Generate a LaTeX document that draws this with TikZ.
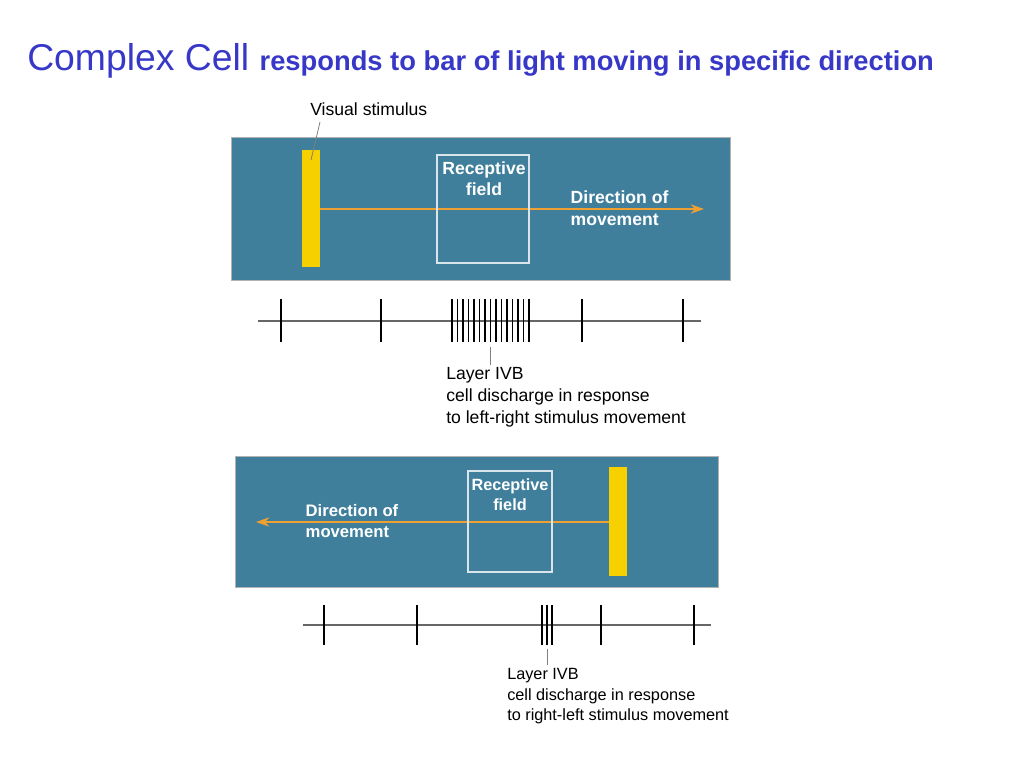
\documentclass[tikz,border=0pt]{standalone}
\usepackage{fontspec}
\setmainfont{Liberation Sans}
\usetikzlibrary{arrows.meta}
\begin{document}
\begin{tikzpicture}[x=0.75pt,y=-0.75pt,
  panel/.style={fill=teal0,draw=gray!60},
  bar/.style={fill=barY,draw=none},
  rf/.style={draw=white!80!teal0,line width=1.2pt},
  wtxt/.style={text=white,font=\bfseries\fontsize{13.2}{16.5}\selectfont,align=left},
  rtxt/.style={text=white,font=\bfseries\fontsize{13.2}{15.5}\selectfont,align=center},
  ktxt/.style={font=\fontsize{13.2}{16.5}\selectfont,align=left,anchor=north west,inner sep=0},
  dir/.style={draw=arrO,line width=1.2pt,-{Stealth[length=10pt,width=7pt]}},
  base/.style={draw=gray!80!black,line width=0.9pt},
  spk/.style={draw=black,line width=0.9pt}]
\definecolor{teal0}{HTML}{3F7F9C}
\definecolor{barY}{HTML}{F7D000}
\definecolor{arrO}{HTML}{F0A030}
\definecolor{ttl}{HTML}{3838C8}
\useasboundingbox (0,0) rectangle (1024,768);
\node[anchor=base west,inner sep=0,text=ttl] (title) at (27,70) {\fontsize{28}{32}\selectfont Complex Cell \fontsize{20.5}{24}\selectfont\bfseries responds to bar of light moving in specific direction};
% top panel
\node[ktxt] (vs) at (310,102) {Visual stimulus};
\fill[panel] (231,137) rectangle (730,280);
\fill[bar] (302,150) rectangle (320,267);
\coordinate (b1) at (320,209);
\coordinate (a1) at (704,209);
\draw[dir] (b1) -- (a1);
\draw[rf] (437,155) rectangle (529,263);
\node[rtxt] (rf1) at (484,179) {Receptive\\field};
\node[wtxt,anchor=west] (d1) at (566,208) {Direction of\\movement};
\draw[gray,line width=0.6pt] (320,122) -- (311,160);
\draw[base] (258,321) -- (701,321);
\foreach \x in {281,381,582,683} \draw[spk] (\x,299) -- (\x,342);
\foreach \i in {0,...,14} \draw[spk] ({452+\i*5.5},299) -- ({452+\i*5.5},342);
\draw[gray,line width=0.6pt] (490,347) -- (490,365);
\node[ktxt] (l1) at (446,367) {Layer IVB\\cell discharge in response\\to left-right stimulus movement};
% bottom panel
\fill[panel] (235,456) rectangle (718,587);
\fill[bar] (609,467) rectangle (627,576);
\coordinate (b2) at (609,522);
\coordinate (a2) at (256,522);
\draw[dir] (b2) -- (a2);
\draw[rf] (468,471) rectangle (552,572);
\node[rtxt,font=\bfseries\fontsize{12.2}{15}\selectfont] (rf2) at (510,495) {Receptive\\field};
\node[wtxt,anchor=west,font=\bfseries\fontsize{12.5}{16}\selectfont] (d2) at (301,521) {Direction of\\movement};
\draw[base] (303,625) -- (711,625);
\foreach \x in {324,417,542,547,552,601,694} \draw[spk] (\x,605) -- (\x,645);
\draw[gray,line width=0.6pt] (547,649) -- (547,665);
\node[ktxt,font=\fontsize{12.2}{15.5}\selectfont] (l2) at (507,668) {Layer IVB\\cell discharge in response\\to right-left stimulus movement};
\end{tikzpicture}
\end{document}
